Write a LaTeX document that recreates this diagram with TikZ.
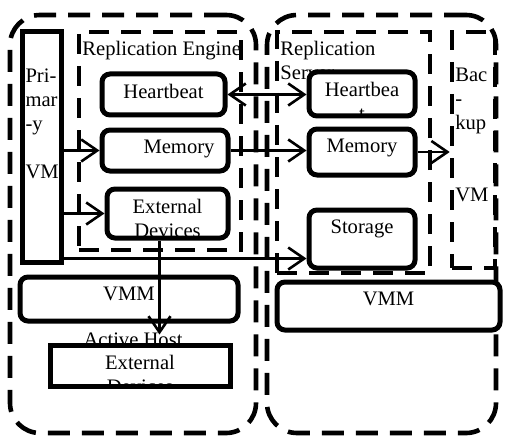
\documentclass[tikz,border=0pt]{standalone}
\usepackage{fontspec}
\setmainfont{Liberation Serif}
\usetikzlibrary{arrows.meta,positioning,calc}

\begin{document}
\begin{tikzpicture}[x=0.5pt,y=-0.5pt,
	font=\fontsize{10.3}{12}\selectfont,
	hostbox/.style={draw, line width=2.3pt, dash pattern=on 11pt off 6pt, rounded corners=15pt, inner sep=0pt},
	groupbox/.style={draw, line width=2.3pt, dash pattern=on 10pt off 6pt, inner sep=0pt},
	box/.style={draw, line width=2.5pt, rounded corners=4pt, fill=white, inner sep=0pt},
	intext/.style={draw=none, fill=none, inner sep=0pt, minimum width=0pt, minimum height=0pt},
	boxlabel/.style={path picture={\node[intext, align=center, anchor=north] at ([yshift=-3.8pt]path picture bounding box.north) {#1};}},
	sidelabel/.style={path picture={\node[intext, align=left, anchor=north west] at ([xshift=0.5pt,yshift=-17pt]path picture bounding box.north west) {#1};}},
	conn/.style={line width=1.3pt, >={Straight Barb[length=8pt,width=11pt]}}]
	\useasboundingbox (0,0) rectangle (506,438);
	
	% hosts
	\node[hostbox, minimum width=123pt, minimum height=209pt] (ahost) at (133,224) {};
	\node[hostbox, minimum width=114.5pt, minimum height=209pt] (bhost) at (381.5,224) {};
	
	% groups
	\node[groupbox, minimum width=81pt, minimum height=109pt] (eng) at (160,141) {};
	\node[groupbox, minimum width=76.5pt, minimum height=120.5pt] (srv) at (353.5,152.5) {};
	\node[groupbox, minimum width=21.5pt, minimum height=118pt, sidelabel={Bac\\-\\kup\\[24pt]VM}] (bvm) at (473.5,150) {};
	
	\node[anchor=north west, inner sep=0pt] (englabel) at (82,41) {Replication Engine};
	\node[anchor=north west, inner sep=0pt, align=left] (srvlabel) at (280,41) {Replication\\Server};
	\node[anchor=base, inner sep=0pt] (ahlabel) at (133,346) {Active Host};
	
	% active host
	\node[box, sharp corners, minimum width=19.5pt, minimum height=115pt, sidelabel={Pri-\\mar\\-y\\[12pt]VM}] (pvm) at (41.5,147) {};
	\node[box, minimum width=61.5pt, minimum height=20.5pt, boxlabel=Heartbeat] (lhb) at (163.5,94.5) {};
	\node[box, minimum width=63pt, minimum height=20.5pt, boxlabel={\hspace*{14pt}Memory}] (lmem) at (165,150.5) {};
	\node[box, minimum width=60.5pt, minimum height=24.5pt, boxlabel={External\\Devices}] (lext) at (167.5,213.5) {};
	\node[box, minimum width=109pt, minimum height=22pt, boxlabel=VMM] (lvmm) at (129,299) {};
	\node[box, sharp corners, minimum width=90pt, minimum height=20.5pt, boxlabel={External\\Devices}] (lext2) at (140,365.5) {};
	
	% backup host
	\node[box, minimum width=53pt, minimum height=22pt, boxlabel={Heartbea\\t}] (rhb) at (362,94) {};
	\node[box, minimum width=53pt, minimum height=23pt, boxlabel=Memory] (rmem) at (362,152) {};
	\node[box, minimum width=53pt, minimum height=29pt, boxlabel=Storage] (rsto) at (362,239) {};
	\node[box, minimum width=111.5pt, minimum height=24pt, boxlabel=VMM] (rvmm) at (388.5,306) {};
	
	% arrows
	\draw[conn,<->] (lhb.east) -- (lhb.east -| rhb.west);
	\draw[conn,->] (lmem.east) -- (lmem.east -| rmem.west);
	\draw[conn,->] (pvm.east |- lmem.west) -- (lmem.west);
	\draw[conn,->] (pvm.east |- lext.west) -- (lext.west);
	\coordinate (stoin) at ($(rsto.south west)!0.19!(rsto.north west)$);
	\draw[conn,->] (pvm.east |- stoin) -- (stoin);
	\draw[conn,->] (rmem.east) -- (rmem.east -| bvm.west);
	\draw[conn,->,shorten >=4pt] ([xshift=-4pt]lext.south) -- ([xshift=-4pt]lext.south |- lext2.north);
\end{tikzpicture}
\end{document}
